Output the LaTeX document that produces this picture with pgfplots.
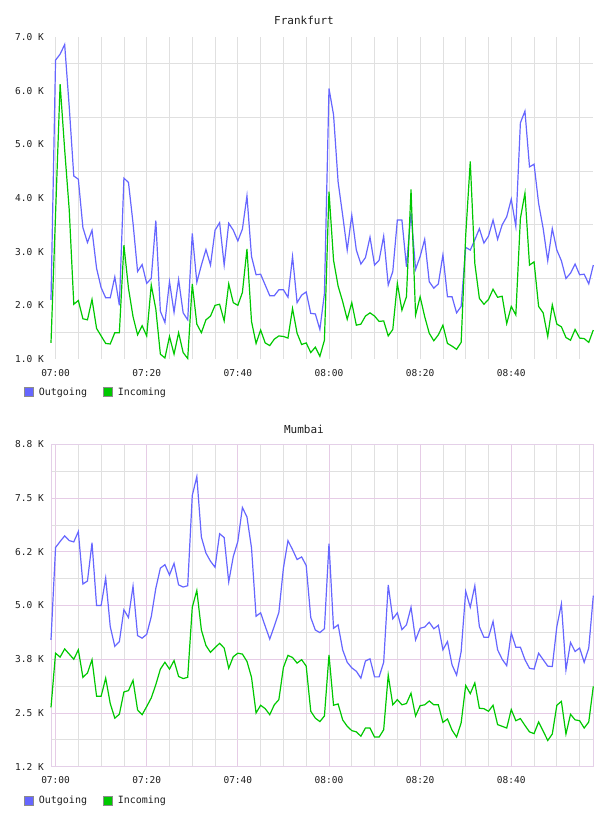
\documentclass[border=0pt]{standalone}
\usepackage{fontspec}
\setmainfont{DejaVu Sans Mono}
\usepackage{pgfplots}
\usepackage{pgfplotstable}
\pgfplotsset{compat=1.18}

\definecolor{outblue}{RGB}{102,102,255}
\definecolor{ingreen}{RGB}{0,200,0}
\definecolor{gridgray}{RGB}{224,224,224}
\definecolor{gridpurple}{RGB}{230,204,230}
\definecolor{framepurple}{RGB}{228,208,232}
\definecolor{keyborder}{RGB}{140,140,140}
\definecolor{textdark}{RGB}{30,30,30}

% minute offset from 07:00, outgoing and incoming traffic (thousands)
\pgfplotstableread{
m out in
-1 2.10 1.30
0 6.57 3.70
1 6.68 6.12
2 6.86 4.90
3 5.70 3.78
4 4.41 2.02
5 4.35 2.09
6 3.45 1.75
7 3.17 1.73
8 3.40 2.11
9 2.69 1.57
10 2.33 1.43
11 2.14 1.29
12 2.14 1.28
13 2.53 1.49
14 2.00 1.49
15 4.37 3.12
16 4.29 2.32
17 3.53 1.79
18 2.63 1.45
19 2.76 1.62
20 2.41 1.43
21 2.50 2.38
22 3.58 1.93
23 1.89 1.09
24 1.68 1.02
25 2.44 1.42
26 1.87 1.09
27 2.48 1.49
28 1.86 1.12
29 1.73 1.01
30 3.34 2.40
31 2.43 1.65
32 2.75 1.49
33 3.04 1.73
34 2.75 1.80
35 3.40 2.00
36 3.54 2.02
37 2.75 1.71
38 3.53 2.40
39 3.40 2.05
40 3.20 2.00
41 3.42 2.24
42 4.04 3.05
43 2.91 1.70
44 2.57 1.29
45 2.58 1.54
46 2.38 1.30
47 2.18 1.25
48 2.18 1.37
49 2.29 1.43
50 2.29 1.42
51 2.15 1.39
52 2.91 1.94
53 2.05 1.48
54 2.19 1.27
55 2.25 1.30
56 1.85 1.12
57 1.84 1.22
58 1.55 1.05
59 2.22 1.35
60 6.04 4.12
61 5.55 2.84
62 4.30 2.36
63 3.68 2.07
64 3.03 1.74
65 3.68 2.05
66 3.03 1.63
67 2.77 1.65
68 2.89 1.80
69 3.27 1.86
70 2.75 1.80
71 2.84 1.70
72 3.29 1.71
73 2.38 1.43
74 2.63 1.55
75 3.59 2.41
76 3.59 1.91
77 2.72 2.16
78 3.73 4.16
79 2.67 1.82
80 2.91 2.16
81 3.23 1.79
82 2.44 1.48
83 2.32 1.34
84 2.40 1.45
85 2.94 1.63
86 2.16 1.29
87 2.16 1.24
88 1.86 1.18
89 1.98 1.31
90 3.08 3.30
91 3.03 4.68
92 3.22 2.78
93 3.43 2.13
94 3.16 2.02
95 3.29 2.11
96 3.59 2.30
97 3.23 2.15
98 3.50 2.17
99 3.65 1.66
100 3.98 1.98
101 3.47 1.82
102 5.40 3.62
103 5.62 4.09
104 4.58 2.75
105 4.63 2.81
106 3.90 1.98
107 3.43 1.86
108 2.83 1.42
109 3.43 2.01
110 3.03 1.65
111 2.83 1.60
112 2.50 1.40
113 2.60 1.35
114 2.77 1.55
115 2.57 1.39
116 2.58 1.38
117 2.40 1.31
118 2.75 1.54
}\frankfurt

\pgfplotstableread{
m out in
-1 4.20 2.63
0 6.35 3.89
1 6.49 3.80
2 6.62 3.99
3 6.51 3.87
4 6.48 3.75
5 6.72 3.97
6 5.50 3.33
7 5.57 3.43
8 6.46 3.74
9 5.00 2.89
10 5.00 2.89
11 5.64 3.31
12 4.51 2.72
13 4.05 2.38
14 4.16 2.47
15 4.90 2.99
16 4.72 3.02
17 5.45 3.26
18 4.30 2.57
19 4.24 2.46
20 4.33 2.65
21 4.74 2.85
22 5.40 3.16
23 5.87 3.52
24 5.95 3.68
25 5.71 3.52
26 5.98 3.72
27 5.48 3.35
28 5.43 3.30
29 5.46 3.33
30 7.56 4.96
31 8.00 5.35
32 6.59 4.43
33 6.22 4.07
34 6.03 3.91
35 5.89 4.02
36 6.67 4.12
37 6.58 4.01
38 5.55 3.54
39 6.14 3.81
40 6.49 3.89
41 7.28 3.87
42 7.06 3.70
43 6.34 3.33
44 4.75 2.50
45 4.83 2.68
46 4.52 2.60
47 4.22 2.46
48 4.52 2.69
49 4.84 2.81
50 5.87 3.56
51 6.51 3.84
52 6.30 3.79
53 6.07 3.66
54 6.13 3.74
55 5.93 3.59
56 4.72 2.54
57 4.43 2.38
58 4.37 2.30
59 4.46 2.43
60 6.44 3.85
61 4.47 2.68
62 4.55 2.71
63 3.97 2.34
64 3.68 2.19
65 3.55 2.09
66 3.47 2.06
67 3.31 1.96
68 3.71 2.15
69 3.76 2.15
70 3.34 1.94
71 3.34 1.94
72 3.68 2.11
73 5.48 3.38
74 4.69 2.69
75 4.83 2.81
76 4.44 2.69
77 4.55 2.72
78 4.96 2.96
79 4.20 2.43
80 4.47 2.67
81 4.50 2.69
82 4.61 2.78
83 4.46 2.69
84 4.54 2.69
85 3.97 2.28
86 4.16 2.36
87 3.62 2.10
88 3.38 1.94
89 3.93 2.27
90 5.33 3.14
91 4.96 2.95
92 5.46 3.20
93 4.51 2.61
94 4.26 2.60
95 4.26 2.54
96 4.63 2.68
97 3.97 2.23
98 3.75 2.19
99 3.60 2.15
100 4.36 2.58
101 4.03 2.32
102 4.03 2.37
103 3.74 2.21
104 3.54 2.06
105 3.52 2.02
106 3.89 2.29
107 3.74 2.08
108 3.59 1.86
109 3.58 2.01
110 4.51 2.68
111 5.04 2.77
112 3.50 2.01
113 4.14 2.47
114 3.93 2.34
115 4.01 2.32
116 3.68 2.15
117 4.01 2.29
118 5.23 3.12
}\mumbai

\pgfplotsset{
  trafficaxis/.style={
    scale only axis,
    width=542.3pt,
    xmin=-1, xmax=118,
    major tick length=0pt, minor tick length=0pt,
    xtick={0,20,...,100},
    xticklabels={07:00,07:20,07:40,08:00,08:20,08:40},
    minor xtick={5,10,...,115},
    tick label style={font=\fontsize{9.5}{11}\selectfont, text=textdark},
    xticklabel style={anchor=north, inner sep=0pt, yshift=-10pt},
    yticklabel style={anchor=east, inner sep=0pt, xshift=-7pt},
    title style={font=\fontsize{11}{13}\selectfont, text=textdark, anchor=center},
    legend style={draw=none, fill=none, inner sep=0pt,
      font=\fontsize{10}{12}\selectfont, text=textdark,
      legend columns=2, anchor=west,
      /tikz/every odd column/.append style={column sep=3pt},
      /tikz/every even column/.append style={column sep=14pt}},
    legend cell align=left,
    clip=false,
  },
  keybox/.style={legend image code/.code={%
    \draw[draw=keyborder, fill=#1, line width=0.8pt] (0pt,-4.5pt) rectangle (9pt,4.5pt);}},
}

\begin{document}
\begin{tikzpicture}
\path[use as bounding box] (0pt,0pt) rectangle (608pt,-816pt);

% Frankfurt
\begin{axis}[
  trafficaxis,
  at={(51pt,-359pt)}, anchor=south west,
  height=322pt,
  ymin=1, ymax=7,
  axis line style={draw=none},
  ytick={1,2,...,7},
  yticklabels={1.0 K,2.0 K,3.0 K,4.0 K,5.0 K,6.0 K,7.0 K},
  minor ytick={1.5,2.5,...,6.5},
  xmajorgrids, xminorgrids, yminorgrids,
  major grid style={draw=gridgray, line width=0.8pt},
  minor grid style={draw=gridgray, line width=0.8pt},
  title={Frankfurt},
  title style={at={(0.4665,1.0334)}},
  legend style={at={(-0.05,-0.1025)}},
]
\addlegendimage{keybox=outblue}
\addlegendentry{Outgoing}
\addlegendimage{keybox=ingreen}
\addlegendentry{Incoming}
\addplot[outblue, line width=1.2pt, forget plot] table[x=m, y=out] {\frankfurt};
\addplot[ingreen, line width=1.2pt, forget plot] table[x=m, y=in] {\frankfurt};
\end{axis}

% Mumbai
\begin{axis}[
  trafficaxis,
  at={(51pt,-766.7pt)}, anchor=south west,
  height=322.4pt,
  ymin=1.25, ymax=8.75,
  axis line style={draw=framepurple, line width=1pt},
  ytick={1.25,2.5,3.75,5,6.25,7.5,8.75},
  yticklabels={1.2 K,2.5 K,3.8 K,5.0 K,6.2 K,7.5 K,8.8 K},
  minor ytick={1.875,3.125,4.375,5.625,6.875,8.125},
  xmajorgrids, xminorgrids, ymajorgrids, yminorgrids,
  major grid style={draw=gridpurple, line width=0.8pt},
  minor grid style={draw=gridgray, line width=0.8pt},
  title={Mumbai},
  title style={at={(0.4665,1.029)}},
  legend style={at={(-0.05,-0.1055)}},
]
\addlegendimage{keybox=outblue}
\addlegendentry{Outgoing}
\addlegendimage{keybox=ingreen}
\addlegendentry{Incoming}
\addplot[outblue, line width=1.2pt, forget plot] table[x=m, y=out] {\mumbai};
\addplot[ingreen, line width=1.2pt, forget plot] table[x=m, y=in] {\mumbai};
\end{axis}
\end{tikzpicture}
\end{document}
